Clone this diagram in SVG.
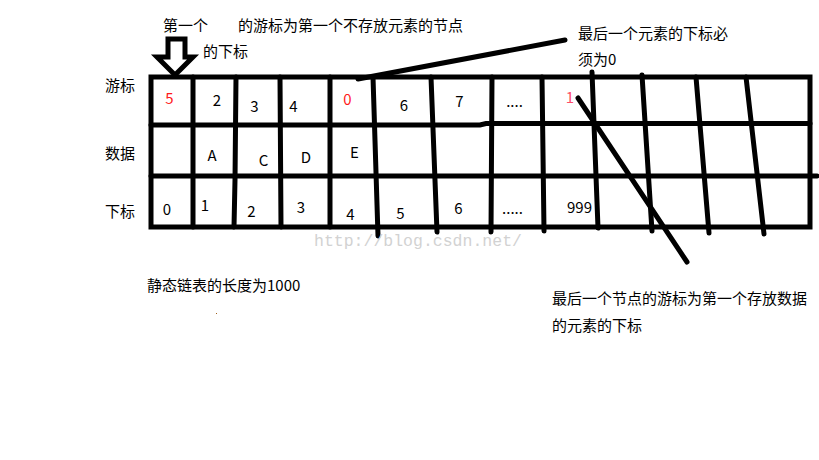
<svg xmlns="http://www.w3.org/2000/svg" width="819" height="460" viewBox="0 0 819 460">
<style>
.ln{stroke:#000;stroke-width:5;fill:none;stroke-linecap:round}
.cj{font-family:"Noto Sans CJK SC","Noto Sans",sans-serif;font-size:15px;fill:#000}
.nm{font-family:"Noto Sans CJK SC","Noto Sans",sans-serif;font-size:15px;fill:#000;text-anchor:middle}
.rd{fill:#ff1a1a}
.pk{fill:#ff4d6a}
.wm{font-family:"Liberation Mono",monospace;font-size:16.5px;fill:#d2d2d2}
</style>
<rect width="819" height="460" fill="#fff"/>
<g id="grid">
<path class="ln" d="M151,77 H810 V227 H151 Z"/>
<path class="ln" d="M151,125 H480 L486,123.5 H810"/>
<path class="ln" d="M151,176 H817"/>
<path class="ln" d="M193,77 V227"/>
<path class="ln" d="M236,77 L235,180 L234,227"/>
<path class="ln" d="M280,77 L281,227"/>
<path class="ln" d="M330,77 V227"/>
<path class="ln" d="M373,77 L378,236"/>
<path class="ln" d="M431,77 L437,232"/>
<path class="ln" d="M492,77 L491,232"/>
<path class="ln" d="M542,77 L544,231"/>
<path class="ln" d="M592,72 L598,228"/>
<path class="ln" d="M642,75 L652,231"/>
<path class="ln" d="M696,77 L709,233"/>
<path class="ln" d="M746,77 L764,234"/>
</g>
<g id="connectors">
<path class="ln" d="M358,79 L565,40"/>
<path class="ln" d="M578,98 L687,262"/>
<path d="M168,39 H185 V57 H193 L175,75 L157,57 H168 Z" fill="#fff" stroke="#000" stroke-width="5" stroke-linejoin="miter"/>
</g>
<g id="labels">
<text class="cj" x="163" y="31">第一个</text>
<text class="cj" x="238" y="31">的游标为第一个不存放元素的节点</text>
<text class="cj" x="203" y="57">的下标</text>
<text class="cj" x="105" y="91">游标</text>
<text class="cj" x="105" y="159">数据</text>
<text class="cj" x="105" y="217">下标</text>
<text class="cj" x="578" y="39">最后一个元素的下标必</text>
<text class="cj" x="578" y="65">须为0</text>
<text class="cj" x="147" y="291">静态链表的长度为1000</text>
<text class="cj" x="552" y="304">最后一个节点的游标为第一个存放数据</text>
<text class="cj" x="552" y="331">的元素的下标</text>
<text class="wm" x="314" y="246">http://blog.csdn.net/</text>
</g>
<g id="cursor-row">
<text class="nm rd" x="169.5" y="104">5</text>
<text class="nm" x="217" y="106">2</text>
<text class="nm" x="254.5" y="112">3</text>
<text class="nm" x="293.5" y="112">4</text>
<text class="nm rd" x="347.5" y="105">0</text>
<text class="nm" x="404" y="111">6</text>
<text class="nm" x="459.5" y="107">7</text>
<text class="nm" x="514.5" y="107">....</text>
<text class="nm pk" x="570" y="103">1</text>
</g>
<g id="data-row">
<text class="nm" x="212" y="161">A</text>
<text class="nm" x="263.5" y="166">C</text>
<text class="nm" x="306" y="163">D</text>
<text class="nm" x="354.5" y="158">E</text>
</g>
<g id="index-row">
<text class="nm" x="167" y="215">0</text>
<text class="nm" x="205" y="211">1</text>
<text class="nm" x="251.5" y="217">2</text>
<text class="nm" x="301" y="213">3</text>
<text class="nm" x="350.5" y="220">4</text>
<text class="nm" x="400.5" y="219">5</text>
<text class="nm" x="458.5" y="214">6</text>
<text class="nm" x="512.5" y="214">.....</text>
<text class="nm" x="579.5" y="213">999</text>
</g>
<rect x="216" y="313" width="1" height="1" fill="#a0601a"/>
</svg>
